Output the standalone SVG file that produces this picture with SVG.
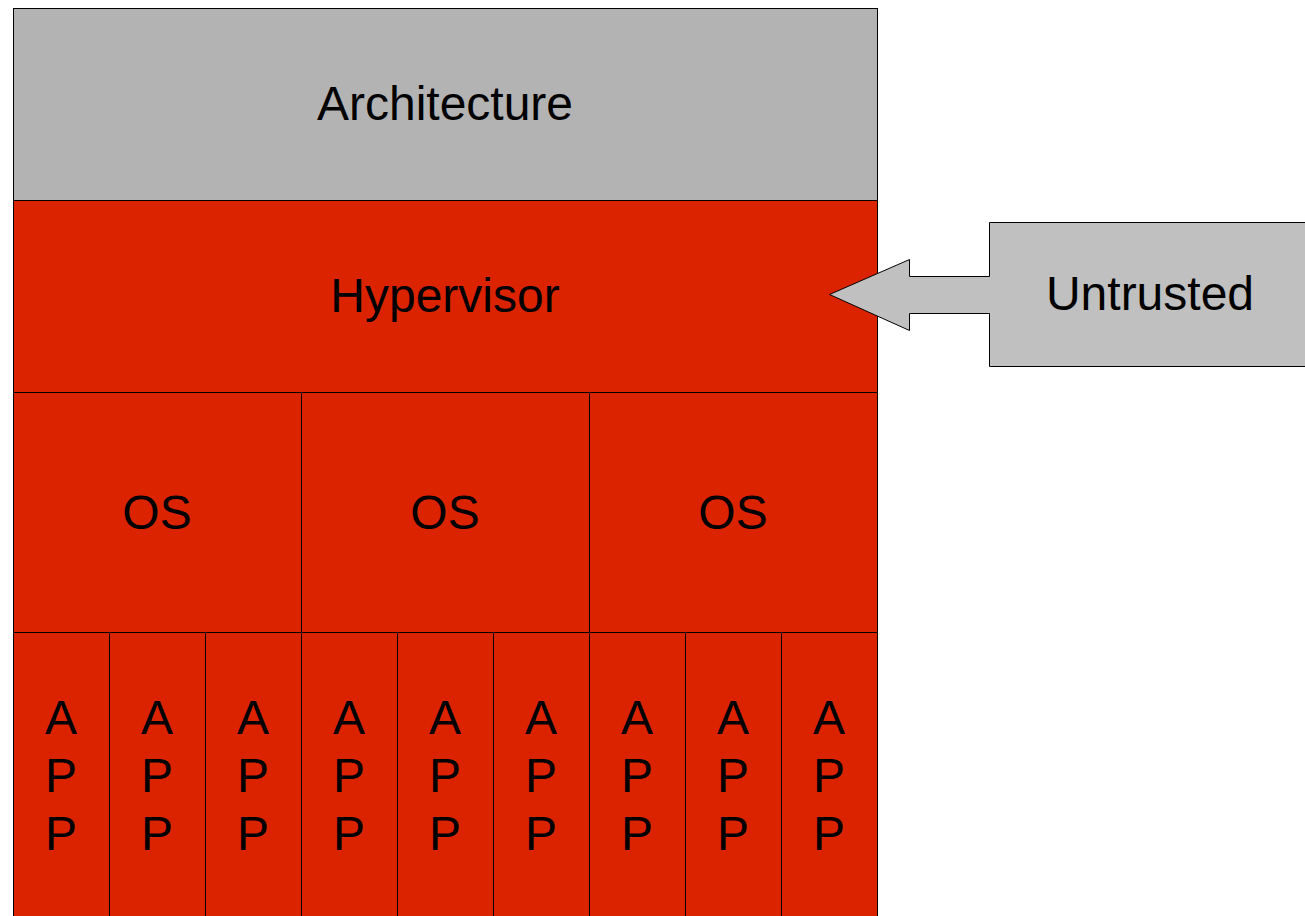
<svg xmlns="http://www.w3.org/2000/svg" width="1305" height="916" viewBox="0 0 1305 916">
<style>
.box{stroke:#000;stroke-width:1}
.red{fill:#dc2300}
.gray{fill:#b3b3b3}
.lt{fill:#c0c0c0}
text{font-family:"Liberation Sans",Arial,sans-serif;font-size:48px;fill:#000;text-anchor:middle}
</style>
<rect width="1305" height="916" fill="#fff"/>
<g id="architecture"><rect class="box gray" x="13.5" y="8.5" width="864" height="192"/><text x="445" y="120">Architecture</text></g>
<g id="hypervisor"><rect class="box red" x="13.5" y="200.5" width="864" height="192"/><text x="445" y="312">Hypervisor</text></g>
<g id="os1"><rect class="box red" x="13.5" y="392.5" width="288" height="240"/><text x="157" y="529">OS</text></g>
<g id="os2"><rect class="box red" x="301.5" y="392.5" width="288" height="240"/><text x="445" y="529">OS</text></g>
<g id="os3"><rect class="box red" x="589.5" y="392.5" width="288" height="240"/><text x="733" y="529">OS</text></g>
<g id="app1"><rect class="box red" x="13.5" y="632.5" width="96" height="300"/><text x="61" y="734">A</text><text x="61" y="792">P</text><text x="61" y="850">P</text></g>
<g id="app2"><rect class="box red" x="109.5" y="632.5" width="96" height="300"/><text x="157" y="734">A</text><text x="157" y="792">P</text><text x="157" y="850">P</text></g>
<g id="app3"><rect class="box red" x="205.5" y="632.5" width="96" height="300"/><text x="253" y="734">A</text><text x="253" y="792">P</text><text x="253" y="850">P</text></g>
<g id="app4"><rect class="box red" x="301.5" y="632.5" width="96" height="300"/><text x="349" y="734">A</text><text x="349" y="792">P</text><text x="349" y="850">P</text></g>
<g id="app5"><rect class="box red" x="397.5" y="632.5" width="96" height="300"/><text x="445" y="734">A</text><text x="445" y="792">P</text><text x="445" y="850">P</text></g>
<g id="app6"><rect class="box red" x="493.5" y="632.5" width="96" height="300"/><text x="541" y="734">A</text><text x="541" y="792">P</text><text x="541" y="850">P</text></g>
<g id="app7"><rect class="box red" x="589.5" y="632.5" width="96" height="300"/><text x="637" y="734">A</text><text x="637" y="792">P</text><text x="637" y="850">P</text></g>
<g id="app8"><rect class="box red" x="685.5" y="632.5" width="96" height="300"/><text x="733" y="734">A</text><text x="733" y="792">P</text><text x="733" y="850">P</text></g>
<g id="app9"><rect class="box red" x="781.5" y="632.5" width="96" height="300"/><text x="829" y="734">A</text><text x="829" y="792">P</text><text x="829" y="850">P</text></g>
<g id="untrusted"><polygon class="box lt" points="829.5,294.5 909.5,259.5 909.5,276.5 989.5,276.5 989.5,222.5 1310,222.5 1310,366.5 989.5,366.5 989.5,313.5 909.5,313.5 909.5,330.5"/><text x="1150" y="310">Untrusted</text></g>
<g id="connectors"></g>
</svg>
